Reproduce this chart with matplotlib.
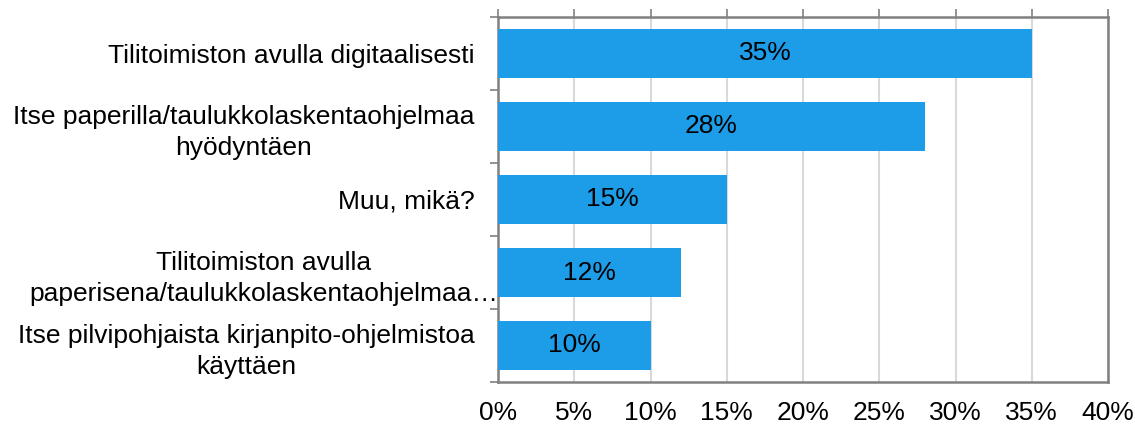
import matplotlib
matplotlib.use("Agg")
import matplotlib.pyplot as plt
import matplotlib.transforms as mtransforms
from matplotlib.ticker import FixedLocator, PercentFormatter

plt.rcParams['font.family'] = ['Liberation Sans', 'DejaVu Sans']

categories = [
    "Tilitoimiston avulla digitaalisesti",
    "Itse paperilla/taulukkolaskentaohjelmaa\nhyödyntäen",
    "Muu, mikä?",
    "Tilitoimiston avulla\npaperisena/taulukkolaskentaohjelmaa…",
    "Itse pilvipohjaista kirjanpito-ohjelmistoa\nkäyttäen",
]
values = [35, 28, 15, 12, 10]
value_labels = ["35%", "28%", "15%", "12%", "10%"]
x_ticks = [0, 5, 10, 15, 20, 25, 30, 35, 40]

fig = plt.figure(figsize=(11.35, 4.26), dpi=100)
ax = fig.add_axes([498 / 1135, 1 - 382 / 426, 610 / 1135, 365 / 426])

pos = list(range(len(categories)))
bars = ax.barh(pos, values, height=0.66, color="#1D9CE8", zorder=3)
for b, lab in zip(bars, value_labels):
    ax.text(b.get_width() / 2, b.get_y() + b.get_height() / 2, lab,
            ha="center", va="center", fontsize=19, color="black", zorder=4)

ax.set_ylim(len(categories) - 0.5, -0.5)
ax.set_xlim(0, 40)

ax.set_yticks(pos)
ax.set_yticklabels(categories, fontsize=19, multialignment="center", linespacing=1.35)
ax.tick_params(axis="y", which="major", length=0, pad=17)
ax.yaxis.set_minor_locator(FixedLocator([p - 0.5 for p in pos] + [pos[-1] + 0.5]))
ax.tick_params(axis="y", which="minor", length=6, width=1.2, color="#808080", direction="out")

# the long fourth label overflows toward the axis
lbl = ax.get_yticklabels()[3]
lbl.set_transform(lbl.get_transform() + mtransforms.ScaledTranslation(0.24, 0, fig.dpi_scale_trans))

ax.set_xticks(x_ticks)
ax.xaxis.set_major_formatter(PercentFormatter(decimals=0))
ax.tick_params(axis="x", labelsize=19, bottom=False, top=True, labelbottom=True,
               length=6, width=1.2, color="#808080", pad=8)

ax.grid(axis="x", color="#D9D9D9", linewidth=1.5, zorder=0)
for s in ax.spines.values():
    s.set_color("#808080")
    s.set_linewidth(1.8)

fig.savefig("out.png", dpi=100)
